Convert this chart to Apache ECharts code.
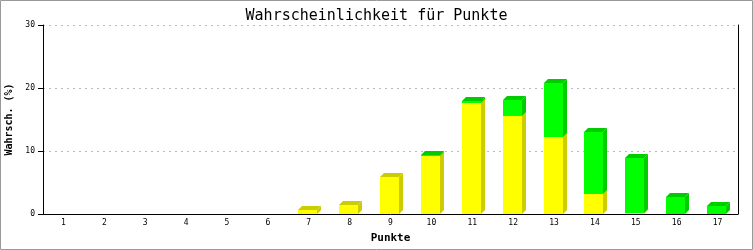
<!DOCTYPE html>
<html>
<head>
<meta charset="utf-8">
<script src="https://cdn.jsdelivr.net/npm/echarts@6/dist/echarts.min.js"></script>
<style>html,body{margin:0;padding:0;background:#fff}#c{width:753px;height:250px}</style>
</head>
<body>
<div id="c"></div>
<script>
var categories = ['1','2','3','4','5','6','7','8','9','10','11','12','13','14','15','16','17'];
var yellowValues = [0,0,0,0,0,0,0.68,1.43,5.9,9.25,17.6,15.6,12.3,3.2,0.16,0,0];
var greenValues  = [0,0,0,0,0,0,0,0,0,0.15,0.3,2.5,8.55,9.8,8.74,2.75,1.32];
var yTicks = [0,10,20,30];

var FONT = 'DejaVu Sans Mono';
var chart = echarts.init(document.getElementById('c'), null, {renderer:'canvas'});

function makeRender(front, dark) {
  return function (params, api) {
    var idx = api.value(0), base = api.value(1), top = api.value(2);
    if (top - base <= 0) return null;
    var band = api.size([1, 0])[0];
    var w = Math.round(band * 0.465);
    var c = api.coord([idx, base]);
    var t = api.coord([idx, top]);
    var x0 = Math.round(c[0] - w / 2) - 1;
    var x1 = x0 + w;
    var yb = Math.round(c[1]);
    var yt = Math.round(t[1]);
    var d = 4;
    return {
      type: 'group',
      children: [
        {type:'polygon', shape:{points:[[x1,yt],[x1+d,yt-d],[x1+d,yb-d],[x1,yb]]}, style:{fill:dark}},
        {type:'polygon', shape:{points:[[x0,yt],[x0+d,yt-d],[x1+d,yt-d],[x1,yt]]}, style:{fill:dark}},
        {type:'rect', shape:{x:x0, y:yt, width:w, height:yb-yt}, style:{fill:front}}
      ]
    };
  };
}

var yellowData = categories.map(function(c,i){ return [i, 0, yellowValues[i]]; });
var greenData = categories.map(function(c,i){ return [i, yellowValues[i], yellowValues[i] + greenValues[i]]; });

chart.setOption({
  animation: false,
  title: {
    text: 'Wahrscheinlichkeit für Punkte',
    left: 'center', top: 4,
    textStyle: {fontFamily: FONT, fontSize: 15, fontWeight: 'normal', color: '#000'}
  },
  grid: {left: 43, right: 15, top: 25, bottom: 36, containLabel: false, outerBoundsMode: 'none'},
  xAxis: {
    type: 'category', data: categories,
    name: 'Punkte', nameLocation: 'middle', nameGap: 19,
    nameTextStyle: {fontFamily: FONT, fontSize: 11, fontWeight: 'bold', color: '#000'},
    axisLine: {lineStyle: {color: '#000', width: 1}},
    axisTick: {show: false},
    axisLabel: {fontFamily: FONT, fontSize: 8, color: '#000', margin: 5},
    splitLine: {show: false}
  },
  yAxis: [{
    type: 'value', min: 0, max: 30, interval: 10,
    name: 'Wahrsch. (%)', nameLocation: 'middle', nameGap: 25,
    nameTextStyle: {fontFamily: FONT, fontSize: 10, fontWeight: 'bold', color: '#000'},
    axisLine: {show: true, lineStyle: {color: '#000', width: 1}},
    axisTick: {show: true, length: 5, lineStyle: {color: '#000'}},
    axisLabel: {fontFamily: FONT, fontSize: 8, color: '#000', margin: 8,
      formatter: function(v){ return yTicks.indexOf(v) >= 0 ? String(v) : ''; }},
    splitLine: {show: true, lineStyle: {color: '#bbbbbb', type: [2,4], width: 1}}
  }, {
    type: 'value', min: 0, max: 30, interval: 10, position: 'right',
    axisLine: {show: true, lineStyle: {color: '#000', width: 1}},
    axisTick: {show: false}, axisLabel: {show: false}, splitLine: {show: false}
  }],
  graphic: [{
    type: 'rect', shape: {x: 0.5, y: 0.5, width: 752, height: 249},
    style: {fill: 'none', stroke: '#999999', lineWidth: 1}, z: 100
  }],
  series: [
    {type: 'custom', renderItem: makeRender('#ffff00', '#cccc00'), data: yellowData, encode: {x: 0, y: [1, 2]}, z: 2},
    {type: 'custom', renderItem: makeRender('#00ff00', '#00cc00'), data: greenData, encode: {x: 0, y: [1, 2]}, z: 3}
  ]
});
</script>
</body>
</html>
